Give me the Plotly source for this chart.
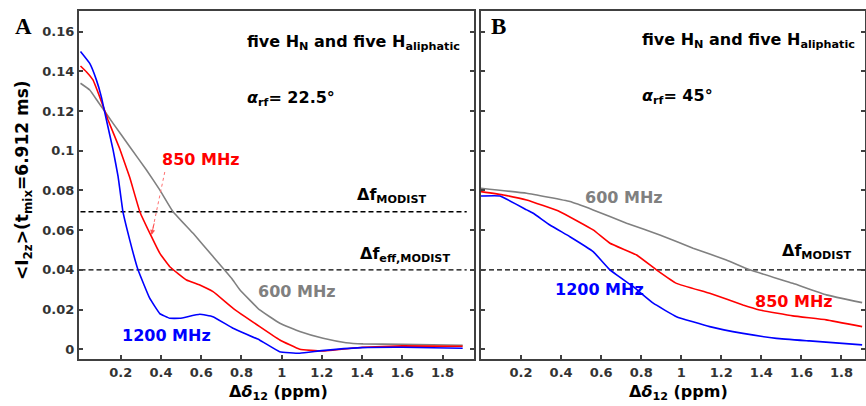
import plotly.graph_objects as go

# ---------------- data ----------------
# Panel A (alpha_rf = 22.5 deg)
x_1200_A = [0, 0.046, 0.079, 0.104, 0.129, 0.162, 0.187, 0.211, 0.245, 0.286, 0.344, 0.394, 0.444,
            0.494, 0.593, 0.658, 0.758, 0.89, 0.99, 1.09, 1.2, 1.4, 1.6, 1.9]
y_1200_A = [0.150, 0.144, 0.1357, 0.127, 0.1155, 0.1004, 0.087, 0.0693, 0.055, 0.040, 0.0257, 0.018,
            0.0156, 0.0156, 0.0176, 0.0164, 0.0106, 0.0047, -0.0012, -0.002, -0.0007, 0.0008, 0.001, 0.0005]

x_850_A = [0, 0.029, 0.062, 0.096, 0.137, 0.195, 0.245, 0.295, 0.353, 0.394, 0.444, 0.527, 0.593,
           0.659, 0.759, 0.891, 0.991, 1.09, 1.2, 1.4, 1.6, 1.9]
y_850_A = [0.1427, 0.1398, 0.1357, 0.127, 0.1155, 0.101, 0.0865, 0.0693, 0.0567, 0.0484, 0.0416,
           0.0349, 0.0324, 0.029, 0.0206, 0.0114, 0.0047, 0.0, -0.0009, 0.001, 0.0017, 0.0015]

x_600_A = [0, 0.046, 0.087, 0.162, 0.245, 0.328, 0.394, 0.46, 0.56, 0.659, 0.751, 0.792, 0.891,
           0.991, 1.09, 1.206, 1.32, 1.405, 1.6, 1.9]
y_600_A = [0.134, 0.1306, 0.1247, 0.1138, 0.102, 0.0903, 0.0803, 0.0693, 0.0584, 0.0467, 0.0358,
           0.030, 0.0198, 0.0131, 0.0089, 0.0055, 0.0033, 0.0027, 0.0025, 0.002]

# Panel B (alpha_rf = 45 deg)
x_600_B = [0, 0.228, 0.444, 0.56, 0.727, 0.893, 1.059, 1.225, 1.342, 1.557, 1.724, 1.903]
y_600_B = [0.0811, 0.0786, 0.0744, 0.0702, 0.0635, 0.0576, 0.0509, 0.045, 0.040, 0.0332, 0.0274, 0.0235]

x_850_B = [0, 0.112, 0.228, 0.394, 0.56, 0.644, 0.777, 0.876, 0.976, 1.142, 1.308, 1.391, 1.557,
           1.724, 1.903]
y_850_B = [0.0794, 0.0777, 0.0752, 0.0693, 0.0601, 0.0534, 0.0475, 0.040, 0.0332, 0.0282, 0.0223,
           0.0198, 0.0168, 0.0148, 0.0114]

x_1200_B = [0, 0.095, 0.228, 0.261, 0.344, 0.444, 0.56, 0.644, 0.76, 0.86, 0.976, 1.142, 1.308,
            1.475, 1.64, 1.903]
y_1200_B = [0.0772, 0.0772, 0.0702, 0.0685, 0.0626, 0.0567, 0.0492, 0.040, 0.0315, 0.0232, 0.0164,
            0.0114, 0.008, 0.0055, 0.0042, 0.0022]

# reference levels
df_modist_A = 0.0693
df_eff_modist_A = 0.040
df_modist_B = 0.040

x_ticks = [0.2, 0.4, 0.6, 0.8, 1.0, 1.2, 1.4, 1.6, 1.8]
x_tick_labels = ["0.2", "0.4", "0.6", "0.8", "1", "1.2", "1.4", "1.6", "1.8"]
y_ticks = [0, 0.02, 0.04, 0.06, 0.08, 0.10, 0.12, 0.14, 0.16]
y_tick_labels = ["0", "0.02", "0.04", "0.06", "0.08", "0.1", "0.12", "0.14", "0.16"]

# ---------------- styling ----------------
BLUE = "#0000ff"
RED = "#ff0000"
GRAY = "#808080"
FRAME = "#404040"
FONT = "DejaVu Sans"

fig = go.Figure()

def add_line(x, y, color, xa, ya):
    fig.add_trace(go.Scatter(x=x, y=y, mode="lines", xaxis=xa, yaxis=ya,
                             line=dict(color=color, width=1.6, shape="spline", smoothing=0.3),
                             showlegend=False, hoverinfo="skip"))

# dashed reference lines (drawn first, under curves)
for lvl in [df_modist_A, df_eff_modist_A]:
    fig.add_trace(go.Scatter(x=[0, 1.92], y=[lvl, lvl], mode="lines", xaxis="x", yaxis="y",
                             line=dict(color="black", width=1.4, dash="5px,3px"),
                             showlegend=False, hoverinfo="skip"))
fig.add_trace(go.Scatter(x=[0, 1.9], y=[df_modist_B, df_modist_B], mode="lines", xaxis="x2", yaxis="y2",
                         line=dict(color="black", width=1.4, dash="5px,3px"),
                         showlegend=False, hoverinfo="skip"))

add_line(x_600_A, y_600_A, GRAY, "x", "y")
add_line(x_850_A, y_850_A, RED, "x", "y")
add_line(x_1200_A, y_1200_A, BLUE, "x", "y")
add_line(x_600_B, y_600_B, GRAY, "x2", "y2")
add_line(x_850_B, y_850_B, RED, "x2", "y2")
add_line(x_1200_B, y_1200_B, BLUE, "x2", "y2")

# dotted arrow shaft for 850 MHz label
fig.add_trace(go.Scatter(x=[0.419, 0.356], y=[0.0893, 0.0590], mode="lines", xaxis="x", yaxis="y",
                         line=dict(color="#ff7070", width=1, dash="dot"),
                         showlegend=False, hoverinfo="skip"))

axis_common = dict(showgrid=False, zeroline=False, showline=True, linecolor=FRAME, linewidth=2,
                   ticks="inside", ticklen=4, tickwidth=1.5, tickcolor=FRAME,
                   tickfont=dict(family=FONT, size=13, color="#333333", weight="bold"))

fig.update_layout(
    width=866, height=406,
    margin=dict(l=0, r=0, t=0, b=0),
    paper_bgcolor="white", plot_bgcolor="white",
    xaxis=dict(domain=[0.0912, 0.5473], range=[-0.0075, 1.956], tickvals=x_ticks,
               ticktext=x_tick_labels, mirror=True, anchor="y", **axis_common),
    yaxis=dict(domain=[0.1158, 0.9729], range=[-0.0049, 0.1704], tickvals=y_ticks,
               ticktext=y_tick_labels, mirror="ticks", anchor="x", **axis_common),
    xaxis2=dict(domain=[0.5554, 0.999], range=[0, 1.918], tickvals=x_ticks,
                ticktext=x_tick_labels, mirror=True, anchor="y2", **axis_common),
    yaxis2=dict(domain=[0.1158, 0.9729], range=[-0.0049, 0.1704], tickvals=y_ticks,
                showticklabels=False, mirror="ticks", anchor="x2", **axis_common),
)

def ann(text, x, y, color="black", size=16, xref="x", yref="y", xanchor="left", family=FONT,
        weight="bold", **kw):
    fig.add_annotation(text=text, x=x, y=y, xref=xref, yref=yref, xanchor=xanchor, yanchor="middle",
                       showarrow=False, font=dict(family=family, size=size, color=color, weight=weight),
                       **kw)

# panel letters
ann("A", 23 / 866, 1 - 27 / 406, xref="paper", yref="paper", xanchor="center",
    family="Liberation Serif", size=23)
ann("B", 498 / 866, 1 - 27 / 406, xref="paper", yref="paper", xanchor="center",
    family="Liberation Serif", size=23)

# panel A texts
ann("five H<sub>N</sub> and five H<sub>aliphatic</sub>", 0.817, 0.1545, size=16)
ann("<i>α</i><sub>rf</sub>= 22.5°", 0.817, 0.1265, size=16)
ann("Δf<sub>MODIST</sub>", 1.365, 0.0775, size=16)
ann("Δf<sub>eff,MODIST</sub>", 1.38, 0.0475, size=16)
ann("850 MHz", 0.395, 0.0954, color=RED, size=16)
ann("600 MHz", 0.873, 0.0289, color=GRAY, size=16)
ann("1200 MHz", 0.196, 0.0067, color=BLUE, size=16)

# panel B texts
ann("five H<sub>N</sub> and five H<sub>aliphatic</sub>", 0.793, 0.1555, size=16, xref="x2", yref="y2")
ann("<i>α</i><sub>rf</sub>= 45°", 0.793, 0.1275, size=16, xref="x2", yref="y2")
ann("Δf<sub>MODIST</sub>", 1.491, 0.049, size=16, xref="x2", yref="y2")
ann("600 MHz", 0.509, 0.0767, color=GRAY, size=16, xref="x2", yref="y2")
ann("1200 MHz", 0.359, 0.0299, color=BLUE, size=16, xref="x2", yref="y2")
ann("850 MHz", 1.356, 0.0243, color=RED, size=16, xref="x2", yref="y2")

# arrow head for the 850 MHz pointer
fig.add_annotation(x=0.353, y=0.0576, xref="x", yref="y", ax=3, ay=-13, showarrow=True,
                   arrowhead=2, arrowsize=1, arrowwidth=1, arrowcolor="#ff5050", text="")

# axis titles
ann("&lt;I<sub>2z</sub>&gt;(t<sub>mix</sub>=6.912 ms)", 23 / 866, 1 - 180 / 406, xref="paper",
    yref="paper", xanchor="center", size=17, textangle=-90)
ann("Δ<i>δ</i><sub>12</sub> (ppm)", 278 / 866, 1 - 392 / 406, xref="paper", yref="paper",
    xanchor="center", size=16)
ann("Δ<i>δ</i><sub>12</sub> (ppm)", 678 / 866, 1 - 392 / 406, xref="paper", yref="paper",
    xanchor="center", size=16)

fig.write_html("out.html", config={"displayModeBar": False},
               post_script="document.body.style.margin='0px';document.body.style.overflow='hidden';")
